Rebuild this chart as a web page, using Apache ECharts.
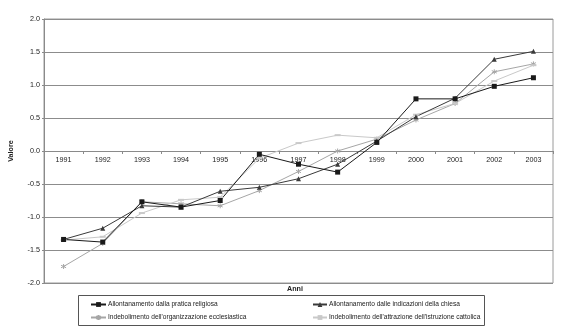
<!DOCTYPE html>
<html>
<head>
<meta charset="utf-8">
<script src="https://cdn.jsdelivr.net/npm/echarts@6/dist/echarts.min.js"></script>
<style>
  html, body { margin: 0; padding: 0; background: #fff; }
  #chart { width: 564px; height: 331px; }
</style>
</head>
<body>
<div id="chart"></div>
<script>
// Years on the category axis
const anni = ['1991','1992','1993','1994','1995','1996','1997','1998','1999','2000','2001','2002','2003'];

// Series values
const praticaReligiosa = [-1.34, -1.38, -0.77, -0.85, -0.75, -0.05, -0.20, -0.32, 0.13, 0.79, 0.79, 0.98, 1.11];
const indicazioniChiesa = [-1.34, -1.17, -0.83, -0.85, -0.61, -0.55, -0.42, -0.20, 0.15, 0.52, 0.80, 1.39, 1.51];
const organizzazioneEcclesiastica = [-1.75, -1.40, -0.77, -0.80, -0.83, -0.60, -0.31, 0.00, 0.18, 0.47, 0.72, 1.20, 1.32];
const attrazioneIstruzione = [-1.35, -1.30, -0.94, -0.74, -0.70, -0.11, 0.12, 0.24, 0.20, 0.55, 0.72, 1.06, 1.30];

// Series names
const nomi = [
  'Allontanamento dalla pratica religiosa',
  'Allontanamento dalle indicazioni della chiesa',
  'Indebolimento dell\'organizzazione ecclesiastica',
  'Indebolimento dell\'attrazione dell\'istruzione cattolica'
];

// Y axis ticks
const yMin = -2.0, yMax = 2.0, yStep = 0.5;

const FONT = 'Liberation Sans, Arial, sans-serif';
const asterisk = 'path://M5,0L5,10M0.7,2.5L9.3,7.5M0.7,7.5L9.3,2.5';

// Plot area (pixels)
const gridTop = 19, gridBottom = 48, chartH = 331;
const plotH = chartH - gridTop - gridBottom;

const chart = echarts.init(document.getElementById('chart'), null, { renderer: 'canvas' });

function lineSeries(name, data, color, symbol, size, width) {
  return {
    name: name,
    type: 'line',
    data: data,
    symbol: symbol,
    symbolSize: size,
    showSymbol: true,
    lineStyle: { color: color, width: width },
    itemStyle: { color: color, borderColor: color, borderWidth: symbol === asterisk ? 1 : 0 },
    emphasis: { disabled: true },
    animation: false,
    z: 3
  };
}

const legendText = { fontSize: 6.6, color: '#222', fontFamily: FONT, padding: [0, 0, 0, -3] };

chart.setOption({
  animation: false,
  backgroundColor: '#ffffff',
  textStyle: { fontFamily: FONT },
  grid: {
    left: 36, right: 11, top: gridTop, bottom: gridBottom,
    show: true, borderColor: '#9a9a9a', borderWidth: 1
  },
  xAxis: {
    type: 'category',
    data: anni,
    boundaryGap: true,
    position: 'bottom',
    // the category axis crosses the value axis at zero
    offset: -plotH * (0 - yMin) / (yMax - yMin),
    axisLine: { onZero: false, lineStyle: { color: '#8a8a8a', width: 1 } },
    axisTick: { show: true, length: 3, lineStyle: { color: '#8a8a8a' } },
    axisLabel: { fontSize: 7.2, color: '#222', margin: 6, fontFamily: FONT },
    splitLine: { show: false }
  },
  yAxis: {
    type: 'value',
    min: yMin, max: yMax, interval: yStep,
    name: 'Valore',
    nameLocation: 'middle',
    nameRotate: 90,
    nameGap: 29,
    nameTextStyle: { fontSize: 7.2, fontWeight: 'bold', color: '#222', fontFamily: FONT },
    axisLine: { show: true, lineStyle: { color: '#8a8a8a' } },
    axisTick: { show: true, length: 2, lineStyle: { color: '#8a8a8a' } },
    axisLabel: {
      fontSize: 7.2, color: '#222', margin: 4, fontFamily: FONT,
      formatter: v => v.toFixed(1)
    },
    splitLine: { show: true, lineStyle: { color: '#8c8c8c', width: 1.2 } }
  },
  legend: [
    {
      data: [nomi[0], nomi[2]],
      orient: 'vertical',
      left: 90, top: 301,
      itemWidth: 15, itemHeight: 6, itemGap: 6,
      textStyle: legendText,
      padding: 0,
      selectedMode: false
    },
    {
      data: [nomi[1], nomi[3]],
      orient: 'vertical',
      left: 312, top: 301,
      itemWidth: 14, itemHeight: 6, itemGap: 6,
      textStyle: legendText,
      padding: 0,
      selectedMode: false
    }
  ],
  graphic: [
    {
      type: 'rect',
      shape: { x: 78.5, y: 295.5, width: 406, height: 30 },
      style: { fill: 'none', stroke: '#555', lineWidth: 1 },
      silent: true
    },
    {
      type: 'text',
      left: 287, top: 286,
      style: { text: 'Anni', fontSize: 7.2, fontWeight: 'bold', fill: '#222', fontFamily: FONT },
      silent: true
    }
  ],
  series: [
    lineSeries(nomi[2], organizzazioneEcclesiastica, '#a6a6a6', asterisk, 5, 1),
    lineSeries(nomi[3], attrazioneIstruzione, '#c9c9c9', 'rect', [6, 2], 1),
    lineSeries(nomi[1], indicazioniChiesa, '#3a3a3a', 'triangle', 5, 1),
    lineSeries(nomi[0], praticaReligiosa, '#1a1a1a', 'rect', 5, 1)
  ]
});
</script>
</body>
</html>
